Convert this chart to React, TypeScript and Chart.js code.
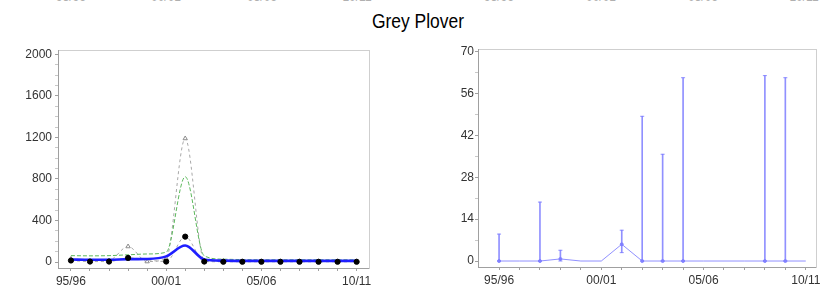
import React, { useEffect, useRef } from 'react';
import { Chart, registerables } from 'chart.js';

Chart.register(...registerables);

// ---------- data ----------
const years = ['95/96', '96/97', '97/98', '98/99', '99/00', '00/01', '01/02', '02/03', '03/04', '04/05', '05/06', '06/07', '07/08', '08/09', '09/10', '10/11'];
const labelledYears = [0, 5, 10, 15];

// left panel
const leftCounts = [30, 8, 15, 150, 5, 35, 1190, 15, 8, 6, 6, 6, 6, 6, 6, 6];
const leftUpper = [62, 60, 62, 70, 78, 95, 822, 60, 28, 24, 22, 22, 22, 22, 22, 22];
const leftTrend = [25, 22, 22, 28, 30, 55, 160, 25, 14, 12, 12, 12, 12, 12, 12, 12];
const leftIndex: (number | null)[] = [15, 5, 5, 40, null, 5, 245, 5, 3, 3, 3, 3, 3, 3, 3, 3];
const leftYTicks = [0, 400, 800, 1200, 1600, 2000];
const leftYMinorStep = 100;

// right panel
const rightValues = [0, 0, 0, 0.7, 0, 0, 5.6, 0, 0, 0, 0, 0, 0, 0, 0, 0];
const rightLow: (number | null)[] = [0, null, 0, 0, null, null, 2.8, 0, 0, 0, null, null, null, 0, 0, null];
const rightHigh: (number | null)[] = [9, null, 19.7, 3.6, null, null, 10.3, 48.4, 35.7, 61.3, null, null, null, 62, 61.3, null];
const rightYTicks = [0, 14, 28, 42, 56, 70];
const rightYMinorStep = 7;

const FONT = "'Liberation Sans', Arial, sans-serif";
const TICK_FONT = { family: FONT, size: 12 };
const TICK_COLOR = '#333';
const AXIS_COLOR = '#a0a0a0';
const BOX_COLOR = '#cfcfcf';

const pts = (arr: (number | null)[]) => arr.map((v, i) => ({ x: i, y: v }));

function xScales(min: number, max: number, height: number) {
  return {
    x: {
      type: 'linear',
      min,
      max,
      offset: false,
      afterBuildTicks: (s: any) => {
        s.ticks = years.map((_, i) => ({ value: i }));
      },
      afterFit: (s: any) => {
        s.height = height;
      },
      ticks: {
        autoSkip: false,
        maxRotation: 0,
        padding: 3,
        font: TICK_FONT,
        color: TICK_COLOR,
        callback: (v: number) => (labelledYears.includes(v) ? years[v] : ''),
      },
      grid: { offset: false, drawOnChartArea: false, tickLength: 3, color: AXIS_COLOR },
      border: { color: AXIS_COLOR },
    },
    x2: {
      type: 'linear',
      position: 'top',
      min,
      max,
      offset: false,
      afterFit: (s: any) => {
        s.height = 0;
      },
      ticks: { display: false },
      grid: { offset: false, drawOnChartArea: false, drawTicks: false },
      border: { color: BOX_COLOR },
    },
  };
}

function yScales(min: number, max: number, major: number[], minorStep: number, width: number, dashed: boolean, pad: number) {
  return {
    y: {
      type: 'linear',
      min,
      max,
      afterBuildTicks: (s: any) => {
        const t: any[] = [];
        const top = major[major.length - 1];
        for (let v = 0; v <= top + 1e-9; v += minorStep) t.push({ value: Math.round(v * 1000) / 1000 });
        s.ticks = t;
      },
      afterFit: (s: any) => {
        s.width = width;
      },
      ticks: {
        autoSkip: false,
        padding: pad,
        font: TICK_FONT,
        color: TICK_COLOR,
        callback: (v: number) => (major.includes(v) ? String(v) : ''),
      },
      grid: {
        drawOnChartArea: false,
        tickLength: 3,
        color: (ctx: any) => (ctx.tick && major.includes(ctx.tick.value) ? AXIS_COLOR : '#c8c8c8'),
      },
      border: { color: AXIS_COLOR, dash: dashed ? [1, 2] : undefined },
    },
    y2: {
      type: 'linear',
      position: 'right',
      min,
      max,
      afterFit: (s: any) => {
        s.width = 0;
      },
      ticks: { display: false },
      grid: { drawOnChartArea: false, drawTicks: false },
      border: { color: BOX_COLOR },
    },
  };
}

function leftConfig(): any {
  return {
    type: 'line',
    data: {
      datasets: [
        {
          label: 'index',
          data: pts(leftIndex),
          showLine: false,
          pointRadius: 2.6,
          pointBackgroundColor: '#000',
          pointBorderColor: '#000',
          order: 1,
        },
        {
          label: 'trend',
          data: pts(leftTrend),
          borderColor: '#1f1fff',
          borderWidth: 2.6,
          pointRadius: 0,
          cubicInterpolationMode: 'monotone',
          order: 2,
        },
        {
          label: 'index curve',
          data: pts(leftIndex),
          borderColor: '#a8a8a8',
          borderWidth: 1,
          borderDash: [3, 3],
          pointRadius: 0,
          spanGaps: true,
          cubicInterpolationMode: 'monotone',
          order: 3,
        },
        {
          label: 'upper',
          data: pts(leftUpper),
          borderColor: '#5cb85c',
          borderWidth: 1,
          borderDash: [4, 2],
          pointRadius: 0,
          cubicInterpolationMode: 'monotone',
          order: 4,
        },
        {
          label: 'counts',
          data: pts(leftCounts),
          borderColor: '#a8a8a8',
          borderWidth: 1,
          borderDash: [3, 3],
          pointStyle: 'triangle',
          pointRadius: 2.5,
          pointBorderColor: '#8c8c8c',
          pointBackgroundColor: '#ffffff',
          pointBorderWidth: 1,
          cubicInterpolationMode: 'monotone',
          order: 5,
        },
      ],
    },
    options: {
      animation: false,
      responsive: true,
      maintainAspectRatio: false,
      layout: { padding: { top: 9, right: 49, left: 0, bottom: 0 } },
      plugins: { legend: { display: false }, tooltip: { enabled: false }, title: { display: false } },
      scales: { ...xScales(-0.68, 15.65, 29), ...yScales(-57, 2040, leftYTicks, leftYMinorStep, 58, true, 3) },
    },
  };
}

function rightConfig(): any {
  const bars = years
    .map((_, i) => (rightHigh[i] == null ? null : { x: i, y: [rightLow[i] as number, rightHigh[i] as number] }))
    .filter((d) => d !== null);
  const caps: any[] = [];
  years.forEach((_, i) => {
    if (rightHigh[i] != null) {
      caps.push({ x: i, y: rightHigh[i] });
      caps.push({ x: i, y: rightLow[i] });
    }
  });
  const lineColor = 'rgba(125,125,255,0.85)';
  return {
    type: 'line',
    data: {
      datasets: [
        {
          type: 'line',
          label: 'value',
          data: pts(rightValues),
          borderColor: lineColor,
          borderWidth: 1,
          pointRadius: (ctx: any) => (rightHigh[ctx.dataIndex] != null ? 1.5 : 0),
          pointBackgroundColor: lineColor,
          pointBorderColor: lineColor,
          tension: 0,
        },
        {
          type: 'scatter',
          label: 'caps',
          data: caps,
          showLine: false,
          pointStyle: 'line',
          pointRadius: 2,
          pointBorderWidth: 1,
          pointBorderColor: lineColor,
        },
        {
          type: 'bar',
          label: 'range',
          data: bars,
          backgroundColor: lineColor,
          borderWidth: 0,
          barThickness: 1,
          borderSkipped: false,
        },
      ],
    },
    options: {
      animation: false,
      responsive: true,
      maintainAspectRatio: false,
      layout: { padding: { top: 9, right: 20, left: 0, bottom: 0 } },
      plugins: { legend: { display: false }, tooltip: { enabled: false }, title: { display: false } },
      scales: { ...xScales(-1.03, 15.5, 30), ...yScales(-2, 70.9, rightYTicks, rightYMinorStep, 60, false, 1) },
    },
  };
}

function ChartBox({ make, style }: { make: () => any; style: React.CSSProperties }) {
  const ref = useRef<HTMLCanvasElement | null>(null);
  useEffect(() => {
    if (!ref.current) return;
    const chart = new Chart(ref.current, make());
    return () => chart.destroy();
  }, [make]);
  return (
    <div style={{ position: 'absolute', ...style }}>
      <canvas ref={ref} />
    </div>
  );
}

const topStripLeft = [71, 166, 262, 357];
const topStripRight = [499, 601, 703, 804];

export default function App() {
  return (
    <div
      style={{
        position: 'absolute',
        left: 0,
        top: 0,
        width: 836,
        height: 297,
        background: '#fff',
        overflow: 'hidden',
        fontFamily: FONT,
      }}
    >
      <div style={{ position: 'absolute', left: 0, top: 0, width: 836, height: 3, overflow: 'hidden' }}>
        {[...topStripLeft, ...topStripRight].map((x, i) => (
          <span
            key={i}
            style={{
              position: 'absolute',
              left: x - 20,
              width: 40,
              top: -10,
              textAlign: 'center',
              fontSize: 12,
              lineHeight: '14px',
              color: '#b0b0b0',
            }}
          >
            {years[labelledYears[i % 4]]}
          </span>
        ))}
      </div>
      <div
        style={{
          position: 'absolute',
          left: 0,
          top: 9,
          width: 836,
          textAlign: 'center',
          fontSize: 21,
          lineHeight: '24px',
          color: '#000',
          transform: 'scaleX(0.83)',
          transformOrigin: '418px 0',
        }}
      >
        Grey Plover
      </div>
      <ChartBox make={leftConfig} style={{ left: 0, top: 40, width: 418, height: 257 }} />
      <ChartBox make={rightConfig} style={{ left: 418, top: 40, width: 418, height: 257 }} />
    </div>
  );
}
